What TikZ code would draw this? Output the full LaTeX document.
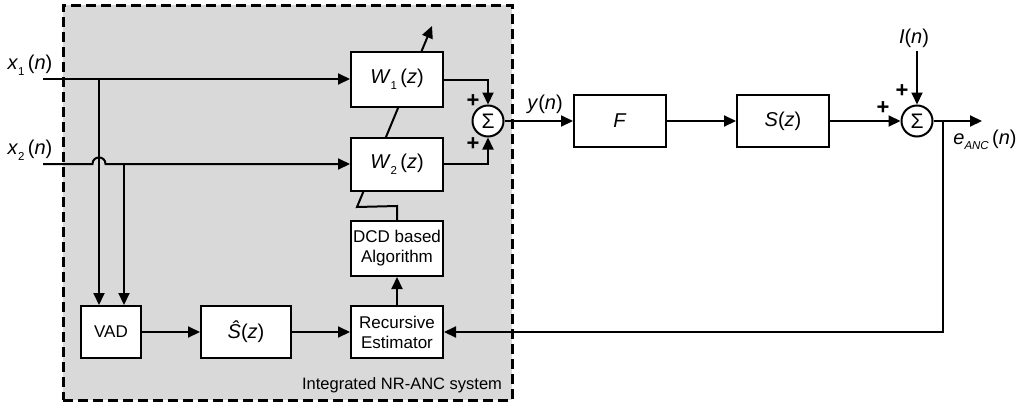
\documentclass[tikz,border=0pt]{standalone}
\usepackage{fontspec}
\setmainfont{Liberation Sans}
\usetikzlibrary{arrows.meta}
\newcommand\vi[1]{\textit{#1}}
\newcommand\ssub[1]{\raisebox{-0.28em}{\fontsize{11.5}{12}\selectfont #1}\,}
\begin{document}
\begin{tikzpicture}[x=1pt,y=-1pt,
  line width=2pt,
  >={Triangle[length=12pt,width=11pt]},
  blk/.style={draw, fill=white, inner sep=0pt, minimum width=92pt, minimum height=54pt, font=\fontsize{20}{22}\selectfont},
  sblk/.style={blk, minimum height=52pt, font=\fontsize{17}{20}\selectfont, align=center},
  sumc/.style={draw, fill=white, circle, inner sep=0pt, minimum size=31pt, font=\fontsize{21}{21}\selectfont},
  lbl/.style={font=\fontsize{20}{22}\selectfont, inner sep=0pt},
  pl/.style={font=\fontsize{22}{22}\selectfont\bfseries, inner sep=0pt},
  sysbox/.style={draw, dash pattern=on 10pt off 5pt, line width=3pt, fill=gray!30, inner sep=0pt},
]
\useasboundingbox (0,0) rectangle (1022,410);
% system box
\node[sysbox, minimum width=449pt, minimum height=395pt] (sys) at (287.5,202.5) {};
\node[font=\fontsize{16.5}{20}\selectfont, inner sep=0pt, anchor=base east] (syslbl) at (503,389) {Integrated NR-ANC system};

% lower blocks
\node[sblk, minimum width=92pt, minimum height=55pt] (DCD) at (397,248.5) {DCD based\\Algorithm};
\node[sblk, minimum width=92pt] (RE) at (397,332) {Recursive\\Estimator};
\node[sblk, minimum width=90pt, font=\fontsize{20}{22}\selectfont] (Sh) at (246,332) {\vi{\^{S}}(\vi{z})};
\node[sblk, minimum width=60pt] (VAD) at (111,332) {VAD};

% adaptation arrow (behind W1, W2)
\coordinate (tip) at (432,26);
\draw[->] (DCD.north) -- ++(0,-14) -- (357,207) -- (tip);

% filters
\node[blk, minimum height=55pt] (W1) at (397,79.5) {\vi{W}\ssub{1}(\vi{z})};
\node[blk, minimum height=53pt] (W2) at (397,164.5) {\vi{W}\ssub{2}(\vi{z})};

% sum 1
\node[sumc] (S1) at (488,121) {Σ};
\node[pl] (p11) at (473,101) {+};
\node[pl] (p12) at (473,144) {+};

% inputs
\coordinate (x1s) at (43,79);
\coordinate (x2s) at (43,164);
\node[lbl] (x1l) at (30,65) {\vi{x}\ssub{1}(\vi{n})};
\node[lbl] (x2l) at (30,150) {\vi{x}\ssub{2}(\vi{n})};
\coordinate (j1) at (99,79);
\coordinate (j2) at (124,164);
\draw[->] (x1s) -- (x1s -| W1.west);
\draw[->] (x2s) -- (92.5,164) .. controls (92.5,155.3) and (105.5,155.3) .. (105.5,164) -- (x2s -| W2.west);
\draw[->] (j1) -- (j1 |- VAD.north);
\draw[->] (j2) -- (j2 |- VAD.north);

\draw[->] (W1.east |- 0,80) -| (S1.north);
\draw[->] (W2.east |- 0,164) -| (S1.south);

% lower chain
\draw[->] (VAD.east) -- (Sh.west);
\draw[->] (Sh.east) -- (RE.west);
\draw[->] (RE.north) -- (DCD.south);

% right part
\node[blk, minimum height=52pt] (F) at (620,121) {\vi{F}};
\node[blk, minimum height=52pt] (S) at (783,121) {\vi{S}(\vi{z})};
\node[sumc] (S2) at (917,121) {Σ};
\node[lbl] (yl) at (545,104) {\vi{y}(\vi{n})};
\node[lbl] (Il) at (914,38) {\vi{I}(\vi{n})};
\node[pl] (p21) at (902,91) {+};
\node[pl] (p22) at (883,108) {+};
\coordinate (Is) at (917,51);
\coordinate (eout) at (982,121);
\coordinate (j3) at (943,121);
\node[lbl] (el) at (985,140) {\vi{e}\ssub{\vi{ANC}}(\vi{n})};

\draw[->] (S1.east) -- (F.west);
\draw[->] (F.east) -- (S.west);
\draw[->] (S.east) -- (S2.west);
\draw[->] (Is) -- (S2.north);
\draw[->] (S2.east) -- (eout);
\draw[->] (j3) |- (RE.east);
\end{tikzpicture}
\end{document}
